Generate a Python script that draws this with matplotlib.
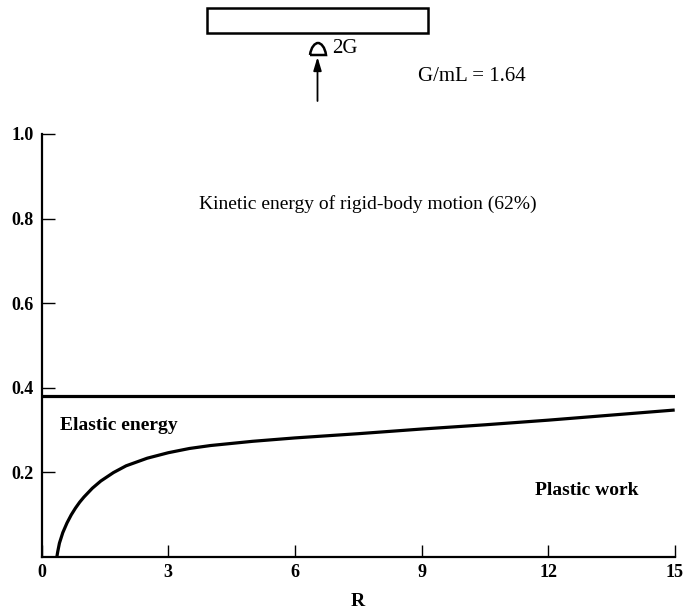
import matplotlib
matplotlib.use("Agg")
import matplotlib.pyplot as plt
from matplotlib.patches import Rectangle, PathPatch, FancyArrowPatch
from matplotlib.path import Path

plt.rcParams["font.family"] = ["Liberation Serif", "DejaVu Serif"]

# Energy partition vs. R
R = [0.36, 0.38, 0.42, 0.50, 0.60, 0.70, 0.80, 0.90, 1.0, 1.2, 1.4, 1.7,
     2.0, 2.5, 3.0, 3.5, 4.0, 5.0, 6.0, 7.5, 9.0, 10.5, 12.0, 13.5, 15.0]
elastic_boundary = [0.0, 0.012, 0.032, 0.057, 0.080, 0.099, 0.115, 0.129, 0.141, 0.162, 0.179, 0.199,
                    0.215, 0.233, 0.246, 0.256, 0.263, 0.273, 0.281, 0.291, 0.302, 0.312, 0.323, 0.335, 0.347]
kinetic_level = 0.38  # rigid-body kinetic energy takes 62 %
r_range = [0, 15]

x_ticks = [0, 3, 6, 9, 12, 15]
x_ticklabels = ["0", "3", "6", "9", "12", "15"]
y_ticks = [0.2, 0.4, 0.6, 0.8, 1.0]
y_ticklabels = ["0.2", "0.4", "0.6", "0.8", "1.0"]

W, H = 684, 614
fig = plt.figure(figsize=(W / 100, H / 100), dpi=100)
ax = fig.add_axes([41.7 / W, 57.3 / H, 633.0 / W, 422.7 / H])

ax.plot(R, elastic_boundary, color="black", lw=2.3, solid_capstyle="butt",
        solid_joinstyle="round")
ax.plot(r_range, [kinetic_level, kinetic_level], color="black", lw=2.3,
        solid_capstyle="butt")

ax.set_xlim(0, 15)
ax.set_ylim(0, 1.0)
ax.spines["top"].set_visible(False)
ax.spines["right"].set_visible(False)
for s in ("left", "bottom"):
    ax.spines[s].set_linewidth(1.6)

ax.set_xticks(x_ticks)
ax.set_xticklabels(x_ticklabels, fontweight="bold")
ax.set_yticks(y_ticks)
ax.set_yticklabels(y_ticklabels, fontweight="bold")
ax.tick_params(direction="in", length=9, width=1.0, labelsize=13, pad=5)
ax.tick_params(axis="y", pad=6)
ax.set_xlabel("R", fontsize=14, fontweight="bold", labelpad=9)

ax.text(7.73, 0.835, "Kinetic energy of rigid-body motion (62%)",
        ha="center", va="center", fontsize=14)
ax.text(0.43, 0.311, "Elastic energy", ha="left", va="center",
        fontsize=14, fontweight="bold")
ax.text(11.69, 0.157, "Plastic work", ha="left", va="center",
        fontsize=14, fontweight="bold")

# Beam sketch above the plot (figure pixel coordinates, origin at top-left)
def fx(px):
    return px / W

def fy(py):
    return 1 - py / H

fig.patches.append(Rectangle((fx(207), fy(33)), fx(428) - fx(207), fy(8) - fy(33),
                             transform=fig.transFigure, fill=False,
                             edgecolor="black", lw=1.8))

# Dome-shaped support symbol
verts = [(fx(310), fy(55)), (fx(311), fy(47)), (fx(315), fy(43)), (fx(318), fy(43)),
         (fx(321), fy(43)), (fx(325), fy(47)), (fx(326), fy(55)), (fx(310), fy(55))]
codes = [Path.MOVETO, Path.CURVE4, Path.CURVE4, Path.CURVE4,
         Path.CURVE4, Path.CURVE4, Path.CURVE4, Path.LINETO]
fig.patches.append(PathPatch(Path(verts, codes), transform=fig.transFigure,
                             fill=False, edgecolor="black", lw=1.8))
fig.text(fx(332), fy(48.5), "2G", ha="left", va="center", fontsize=15)

fig.patches.append(FancyArrowPatch(
    (fx(317.5), fy(101)), (fx(317.5), fy(57)), transform=fig.transFigure,
    arrowstyle="-|>,head_length=8,head_width=2.4", color="black", lw=1.3,
    shrinkA=0, shrinkB=0))

fig.text(fx(418), fy(76.5), "G/mL = 1.64", ha="left", va="center", fontsize=15)

fig.savefig("out.png", dpi=100)
